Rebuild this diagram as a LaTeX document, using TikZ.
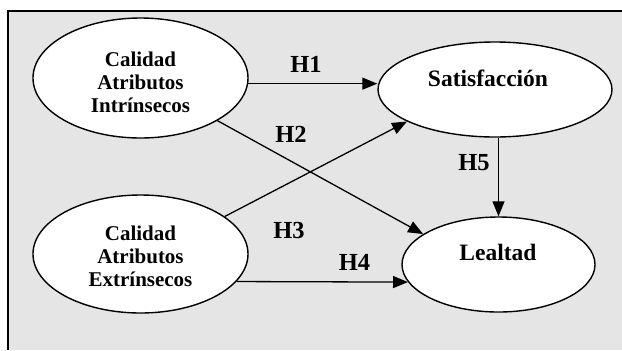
\documentclass[tikz,border=0pt]{standalone}
\usepackage{fontspec}
\setmainfont{Liberation Serif}
\usetikzlibrary{shapes.geometric,arrows.meta}
\definecolor{bgray}{RGB}{229,229,229}
\begin{document}
\begin{tikzpicture}[x=1bp,y=-1bp,
  oval/.style={ellipse,draw=black,line width=1.4bp,fill=white,inner sep=0pt},
  conn/.style={line width=1.3bp,-{Triangle[length=15bp,width=12bp]}},
  hlab/.style={font=\fontsize{24.5bp}{26bp}\selectfont\bfseries,anchor=base,inner sep=0pt},
  ctext/.style={font=\fontsize{21bp}{23bp}\selectfont\bfseries,align=center,inner sep=0pt},
  btext/.style={font=\fontsize{23.5bp}{25bp}\selectfont\bfseries,anchor=base,inner sep=0pt}]
\useasboundingbox (0,0) rectangle (622,350);
\fill[bgray] (8,11) rectangle (622,350);
\draw[line width=2bp] (8,350) -- (8,11) -- (622,11);

\node[oval,minimum width=215bp,minimum height=120bp] (A) at (140.5,78) {};
\node[oval,minimum width=215bp,minimum height=118bp] (B) at (140.5,254) {};
\node[oval,minimum width=234bp,minimum height=95bp] (S) at (495,89.5) {};
\node[oval,minimum width=193bp,minimum height=95bp] (L) at (498.5,264.5) {};

\node[ctext] (tA) at (140.5,82.5) {Calidad\\Atributos\\Intrínsecos};
\node[ctext] (tB) at (140.5,256.5) {Calidad\\Atributos\\Extrínsecos};
\node[btext] (tS) at (488,86) {Satisfacción};
\node[btext] (tL) at (498,260) {Lealtad};

\draw[conn] (A.-3) -- (A.-3 -| S.west);
\draw[conn] (A.-29) -- (L.158.7);
\draw[conn] (B.24) -- (S.200);
\draw[conn] (B.-16.5) -- (L.191);
\draw[conn] (L.north |- S.south) -- (L.north);

\node[hlab] (h1) at (306,72) {H1};
\node[hlab] (h2) at (291,142) {H2};
\node[hlab] (h3) at (289,238) {H3};
\node[hlab] (h4) at (354.5,270) {H4};
\node[hlab] (h5) at (474,170) {H5};
\end{tikzpicture}
\end{document}
